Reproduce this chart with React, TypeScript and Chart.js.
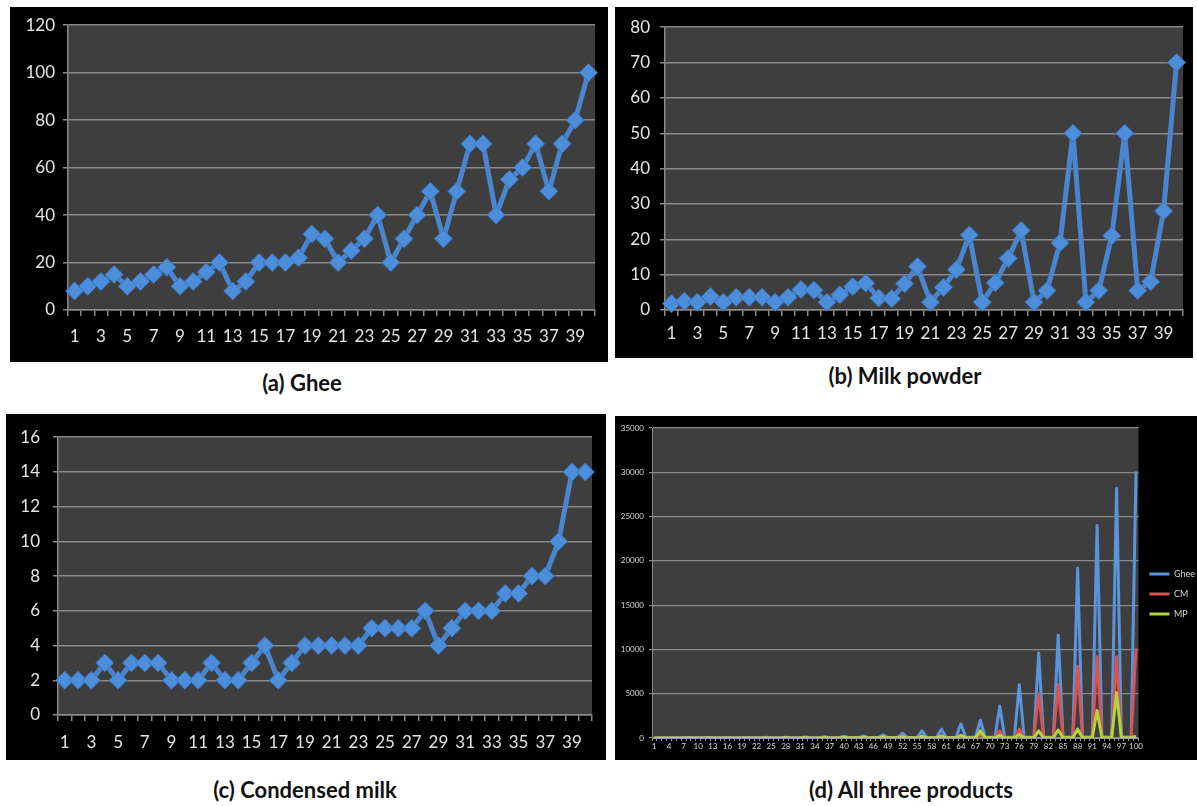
import React, { useEffect, useRef } from "react";
import { Chart, registerables } from "chart.js";
Chart.register(...registerables);

// ---------- data ----------
const periods40 = ["1","2","3","4","5","6","7","8","9","10","11","12","13","14","15","16","17","18","19","20","21","22","23","24","25","26","27","28","29","30","31","32","33","34","35","36","37","38","39","40"];

const gheeValues = [8,10,12,15,10,12,15,18,10,12,16,20,8,12,20,20,20,22,32,30,20,25,30,40,20,30,40,50,30,50,70,70,40,55,60,70,50,70,80,100];
const milkPowderValues = [1.8,2.5,2.2,3.8,2.2,3.6,3.6,3.6,2.2,3.6,5.8,5.6,2.2,4.3,6.6,7.6,3.4,3.2,7.4,12.3,2.2,6.4,11.4,21.2,2.2,7.7,14.6,22.5,2.2,5.5,19,50,2.2,5.5,21,50,5.5,8,28,70];
const condensedMilkValues = [2,2,2,3,2,3,3,3,2,2,2,3,2,2,3,4,2,3,4,4,4,4,4,5,5,5,5,6,4,5,6,6,6,7,7,8,8,10,14,14];

const periods100 = ["1","2","3","4","5","6","7","8","9","10","11","12","13","14","15","16","17","18","19","20","21","22","23","24","25","26","27","28","29","30","31","32","33","34","35","36","37","38","39","40","41","42","43","44","45","46","47","48","49","50","51","52","53","54","55","56","57","58","59","60","61","62","63","64","65","66","67","68","69","70","71","72","73","74","75","76","77","78","79","80","81","82","83","84","85","86","87","88","89","90","91","92","93","94","95","96","97","98","99","100"];

const gheeAll = [10,12,15,30,12,15,18,40,15,18,20,50,18,20,22,60,20,22,25,70,22,25,28,80,25,28,30,100,28,30,35,120,30,35,40,140,35,40,45,200,40,45,50,250,45,50,55,350,50,55,60,550,55,60,65,800,60,65,70,1000,65,70,75,1600,70,75,80,2000,75,80,85,3600,80,85,90,6000,85,90,95,9600,90,95,100,11600,95,100,105,19200,100,105,110,24000,105,110,115,28200,110,115,120,30100];
const cmAll = [5,6,6,10,6,7,7,12,7,8,8,14,8,9,9,16,9,10,10,18,10,11,11,20,11,12,12,25,12,13,13,30,13,14,14,35,14,15,15,40,15,16,16,50,16,17,17,80,17,18,18,100,18,19,19,150,19,20,20,200,20,21,21,250,21,22,22,400,22,23,23,800,23,24,24,1000,24,25,25,5000,25,26,26,6000,26,27,27,8100,27,28,28,9200,28,29,29,9200,29,30,30,10100];
const mpAll = [5,5,6,10,6,6,7,15,7,7,8,20,8,8,9,25,9,9,10,30,10,10,11,35,11,11,12,45,12,12,13,50,13,13,14,60,14,14,15,80,15,15,16,100,16,16,17,150,17,17,18,150,18,18,19,200,19,19,20,250,20,20,21,300,21,21,22,800,22,22,23,300,23,23,24,400,24,24,25,800,25,25,26,900,26,26,27,1000,27,27,28,3100,28,28,29,5100,29,29,30,200];

const seriesNames = ["Ghee", "CM", "MP"];

// ---------- styling ----------
const GRID = "#8a8a8a";
const TICK = "#e4e4e4";

const plotBg = {
  id: "plotBg",
  beforeDraw(chart: any) {
    const { ctx, chartArea: a } = chart;
    ctx.save();
    ctx.fillStyle = "#000";
    ctx.fillRect(0, 0, chart.width, chart.height);
    ctx.fillStyle = "#3e3e3e";
    ctx.fillRect(a.left, a.top, a.right - a.left, a.bottom - a.top);
    ctx.restore();
  },
};

function singleConfig(p: any) {
  return {
    type: "line",
    data: {
      labels: periods40,
      datasets: [
        {
          data: p.values,
          borderColor: "#4a86d0",
          borderWidth: 5,
          borderJoinStyle: "round",
          pointStyle: "rectRot",
          pointRadius: 9,
          pointBackgroundColor: "#4d8edb",
          pointBorderColor: "#3a72b8",
          pointBorderWidth: 1,
          tension: 0,
          clip: false,
        },
      ],
    },
    options: {
      responsive: false,
      animation: false,
      devicePixelRatio: 1,
      layout: { padding: { left: 0, top: p.padTop, right: p.padRight, bottom: 0 } },
      plugins: { legend: { display: false }, tooltip: { enabled: false } },
      scales: {
        x: {
          type: "category",
          offset: true,
          grid: { display: true, drawOnChartArea: false, drawTicks: true, tickLength: 6, color: GRID, lineWidth: 1.5, offset: true },
          border: { display: true, color: GRID, width: 1.5 },
          ticks: {
            autoSkip: false,
            maxRotation: 0,
            minRotation: 0,
            color: TICK,
            font: { family: "Lato", size: 17 },
            padding: p.xPad,
            callback: function (this: any, v: any, i: number) {
              return i % 2 === 0 ? this.getLabelForValue(v) : "";
            },
          },
          afterFit: (s: any) => { s.height = p.xh; },
        },
        y: {
          min: 0,
          max: p.yMax,
          ticks: { stepSize: p.yStep, color: TICK, font: { family: "Lato", size: 17 }, padding: p.yPad },
          grid: { color: GRID, lineWidth: 1.5, drawTicks: true, tickLength: 5 },
          border: { display: true, color: GRID, width: 1.5 },
          afterFit: (s: any) => { s.width = p.yw; },
        },
      },
    },
    plugins: [plotBg],
  };
}

function allConfig() {
  const mk = (label: string, data: number[], color: string, order: number) => ({
    label,
    data,
    borderColor: color,
    backgroundColor: color,
    borderWidth: 3,
    borderJoinStyle: "round",
    pointRadius: 0,
    tension: 0,
    order,
  });
  return {
    type: "line",
    data: {
      labels: periods100,
      datasets: [
        mk(seriesNames[0], gheeAll, "#5a95dc", 3),
        mk(seriesNames[1], cmAll, "#d65454", 2),
        mk(seriesNames[2], mpAll, "#b2d43c", 1),
      ],
    },
    options: {
      responsive: false,
      animation: false,
      devicePixelRatio: 1,
      layout: { padding: { left: 0, top: 12, right: -8, bottom: 0 } },
      plugins: {
        tooltip: { enabled: false },
        legend: {
          position: "right",
          labels: {
            boxWidth: 20,
            boxHeight: 3,
            color: "#d8d8d8",
            font: { family: "Lato", size: 9 },
            padding: 11,
            generateLabels: (chart: any) => {
              const items = (Chart as any).defaults.plugins.legend.labels.generateLabels(chart);
              items.forEach((it: any) => { it.lineWidth = 0; });
              return items;
            },
            sort: (a: any, b: any) => a.datasetIndex - b.datasetIndex,
          },
        },
      },
      scales: {
        x: {
          type: "category",
          offset: true,
          grid: { display: true, drawOnChartArea: false, drawTicks: true, tickLength: 3, color: "#9a9a9a", lineWidth: 1, offset: true },
          border: { display: true, color: "#9a9a9a", width: 1 },
          ticks: {
            autoSkip: false,
            maxRotation: 0,
            minRotation: 0,
            color: "#d8d8d8",
            font: { family: "Lato", size: 8 },
            padding: 1,
            callback: function (this: any, v: any, i: number) {
              return i % 3 === 0 ? this.getLabelForValue(v) : "";
            },
          },
          afterFit: (s: any) => { s.height = 22; },
        },
        y: {
          min: 0,
          max: 35000,
          ticks: {
            stepSize: 5000,
            color: "#d8d8d8",
            font: { family: "Lato", size: 8 },
            padding: 5,
            callback: (v: any) => String(v),
          },
          grid: { color: "#8a8a8a", lineWidth: 1.2, drawTicks: true, tickLength: 3 },
          border: { display: true, color: "#8a8a8a", width: 1 },
          afterFit: (s: any) => { s.width = 37; },
        },
      },
    },
    plugins: [plotBg],
  };
}

function Panel({ left, top, width, height, config }: any) {
  const ref = useRef<HTMLCanvasElement | null>(null);
  useEffect(() => {
    if (!ref.current) return;
    const chart = new Chart(ref.current, config());
    return () => chart.destroy();
  }, []);
  return (
    <canvas
      ref={ref}
      width={width}
      height={height}
      style={{ position: "absolute", left, top, width, height, display: "block" }}
    />
  );
}

function Caption({ cx, cy, text }: any) {
  return (
    <div
      style={{
        position: "absolute",
        left: cx - 200,
        top: cy - 14,
        width: 400,
        height: 28,
        lineHeight: "28px",
        textAlign: "center",
        fontFamily: "Lato, 'Open Sans', sans-serif",
        fontWeight: 700,
        fontSize: 22,
        color: "#111",
        whiteSpace: "nowrap",
      }}
    >
      {text}
    </div>
  );
}

export default function App() {
  return (
    <div style={{ position: "absolute", left: 0, top: 0, width: 1197, height: 806, background: "#fff", overflow: "hidden" }}>
      <Panel
        left={10}
        top={7}
        width={598}
        height={355}
        config={() => singleConfig({ values: gheeValues, yMax: 120, yStep: 20, yw: 58, xh: 52, padTop: 12, padRight: 13, yPad: 8, xPad: 10 })}
      />
      <Panel
        left={615}
        top={7}
        width={578}
        height={351}
        config={() => singleConfig({ values: milkPowderValues, yMax: 80, yStep: 10, yw: 50, xh: 48, padTop: 18, padRight: 3, yPad: 10, xPad: 7 })}
      />
      <Panel
        left={6}
        top={414}
        width={600}
        height={346}
        config={() => singleConfig({ values: condensedMilkValues, yMax: 16, yStep: 2, yw: 52, xh: 45, padTop: 16, padRight: 14, yPad: 13, xPad: 11 })}
      />
      <Panel left={615} top={416} width={582} height={344} config={allConfig} />
      <Caption cx={302} cy={383} text="(a) Ghee" />
      <Caption cx={905} cy={376} text="(b) Milk powder" />
      <Caption cx={305} cy={790} text="(c) Condensed milk" />
      <Caption cx={911} cy={790} text="(d) All three products" />
    </div>
  );
}
